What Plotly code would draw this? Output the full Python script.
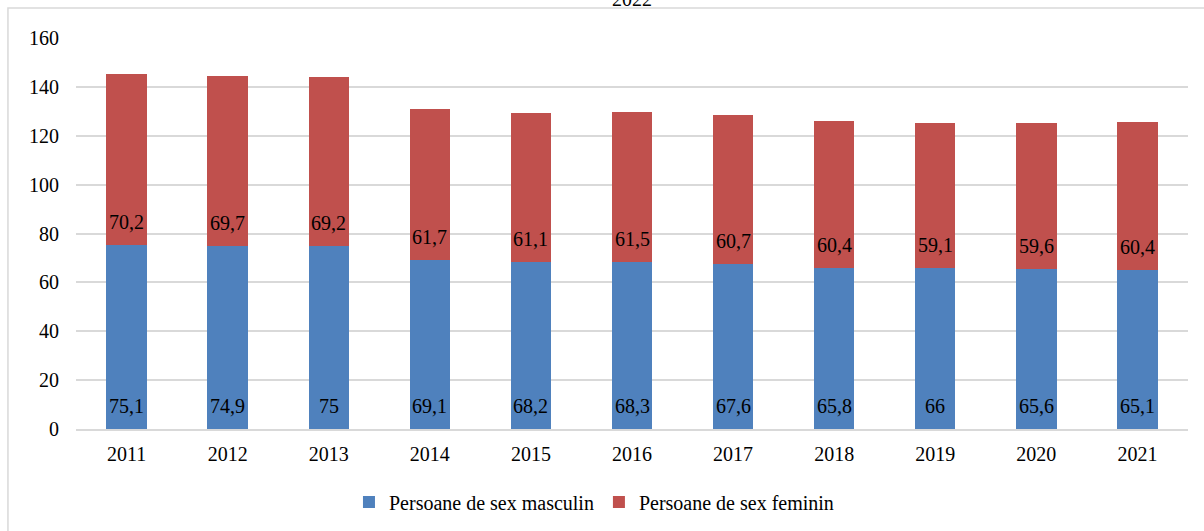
import plotly.graph_objects as go

years = ["2011", "2012", "2013", "2014", "2015", "2016", "2017", "2018", "2019", "2020", "2021"]
masculin = [75.1, 74.9, 75.0, 69.1, 68.2, 68.3, 67.6, 65.8, 66.0, 65.6, 65.1]
feminin = [70.2, 69.7, 69.2, 61.7, 61.1, 61.5, 60.7, 60.4, 59.1, 59.6, 60.4]
name_m = "Persoane de sex masculin"
name_f = "Persoane de sex feminin"
title = "2022"
y_ticks = [0, 20, 40, 60, 80, 100, 120, 140, 160]

BLUE = "#4F81BD"
RED = "#C0504D"
GRID = "#D9D9D9"
FONT = "Liberation Serif, Times New Roman, serif"
FS = 20


def lab(v):
    return f"{v:g}".replace(".", ",")


fig = go.Figure()
fig.add_trace(go.Bar(x=years, y=masculin, name=name_m, marker=dict(color=BLUE, line=dict(width=0))))
fig.add_trace(go.Bar(x=years, y=feminin, name=name_f, marker=dict(color=RED, line=dict(width=0))))

annotations = []
for i, (m, f) in enumerate(zip(masculin, feminin)):
    annotations.append(dict(x=i, y=0, text=lab(m), showarrow=False, yanchor="bottom",
                            yshift=10, font=dict(family=FONT, size=FS, color="black")))
    annotations.append(dict(x=i, y=m, text=lab(f), showarrow=False, yanchor="bottom",
                            yshift=10, font=dict(family=FONT, size=FS, color="black")))

annotations.append(dict(x=0.5, y=1.1, xref="paper", yref="paper", text=title, showarrow=False,
                        yanchor="middle", font=dict(family=FONT, size=FS, color="black")))

fig.update_layout(
    barmode="stack",
    bargap=0.6,
    width=1204, height=531,
    margin=dict(l=76, r=16, t=38, b=102, autoexpand=False),
    paper_bgcolor="white", plot_bgcolor="white",
    font=dict(family=FONT, size=FS, color="black"),
    showlegend=True,
    legend=dict(orientation="h", x=0.4658, xanchor="center", y=-0.187, yanchor="middle",
                font=dict(family=FONT, size=FS, color="black"), itemwidth=30, traceorder="normal"),
    annotations=annotations,
    shapes=[dict(type="rect", xref="paper", yref="paper", x0=-0.0612, y0=-0.284, x1=1.0198, y1=1.0767,
                 line=dict(color=GRID, width=1.5), fillcolor="rgba(0,0,0,0)", layer="below")],
    xaxis=dict(type="category", showgrid=False, showline=True, linecolor=GRID, linewidth=1.5, ticks="",
               ticklabelstandoff=6, tickfont=dict(family=FONT, size=FS, color="black"), automargin=False),
    yaxis=dict(range=[0, 160], tickvals=y_ticks, showgrid=True, gridcolor=GRID, gridwidth=1.5,
               zeroline=False, showline=False, ticks="", ticklabelstandoff=16, automargin=False,
               tickfont=dict(family=FONT, size=FS, color="black")),
)

fig.write_html("out.html", config={"displayModeBar": False},
               post_script="document.body.style.margin='0';")
